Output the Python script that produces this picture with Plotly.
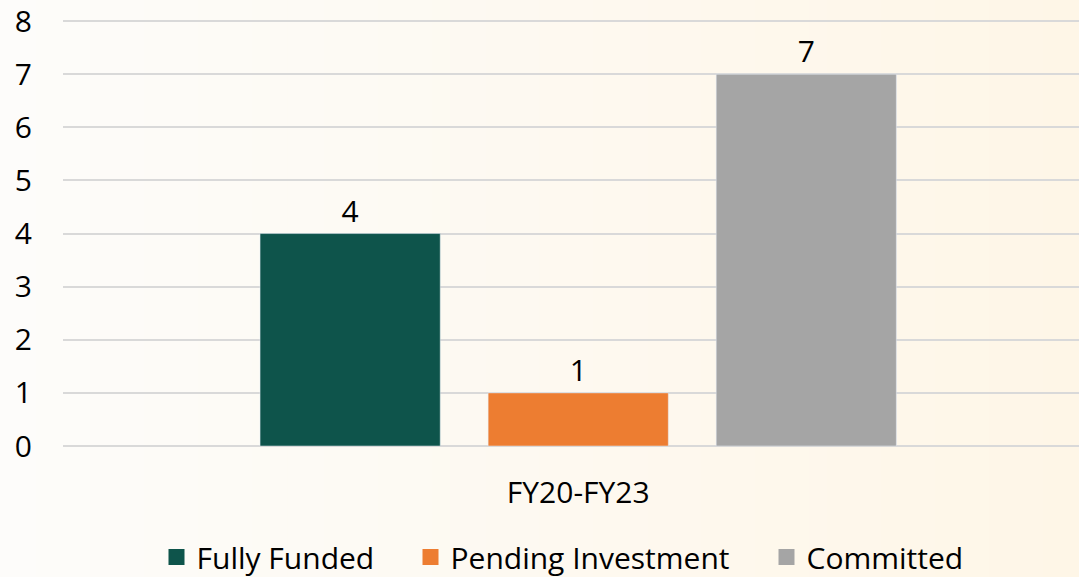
import plotly.graph_objects as go

categories = ["FY20-FY23"]
series_names = ["Fully Funded", "Pending Investment", "Committed"]
series_values = [[4], [1], [7]]
series_colors = ["#0E544B", "#ED7D31", "#A5A5A5"]
y_ticks = [0, 1, 2, 3, 4, 5, 6, 7, 8]

FONT = "Open Sans"
FS = 30
W, H = 1079, 577
ML, MR, MT, MB = 63, 0, 19, 131
pw = W - ML - MR
ph = H - MT - MB

fig = go.Figure()
for name, vals, col in zip(series_names, series_values, series_colors):
    fig.add_trace(go.Bar(
        x=categories, y=vals, name=name, marker_color=col,
        text=[str(v) for v in vals], textposition="outside",
        textfont=dict(size=FS, color="#000000", family=FONT),
        cliponaxis=False, showlegend=False,
    ))

legend_ids = ["legend", "legend2", "legend3"]
legend_px = [156.5, 410.5, 766.5]  # left edge of each legend box (pixels)
for name, col, lid in zip(series_names, series_colors, legend_ids):
    fig.add_trace(go.Scatter(
        x=[None], y=[None], mode="markers", name=name, legend=lid,
        marker=dict(symbol="square", size=19, color=col),
    ))

# background gradient (left near-white -> right cream)
c0 = (253, 252, 250)
c1 = (254, 246, 231)
n = 60
shapes = []
for i in range(n):
    t = i / (n - 1)
    c = tuple(round(a + (b - a) * t) for a, b in zip(c0, c1))
    x0 = (-ML + W * i / n) / pw
    x1 = (-ML + W * (i + 1) / n) / pw + 0.002
    shapes.append(dict(type="rect", xref="paper", yref="paper",
                       x0=x0, x1=x1, y0=-MB / ph - 0.01, y1=1 + MT / ph + 0.01,
                       fillcolor="rgb(%d,%d,%d)" % c, line=dict(width=0),
                       layer="below"))

leg_y = (446 - 557) / ph
legends = {}
for lid, px in zip(legend_ids, legend_px):
    legends[lid] = dict(orientation="h", x=(px - ML) / pw, xanchor="left",
                        y=leg_y, yanchor="middle", bgcolor="rgba(0,0,0,0)",
                        font=dict(size=FS, family=FONT, color="#000000"),
                        borderwidth=0)

fig.update_layout(
    width=W, height=H,
    margin=dict(l=ML, r=MR, t=MT, b=MB, pad=0, autoexpand=False),
    paper_bgcolor="#FDFBF6",
    plot_bgcolor="rgba(0,0,0,0)",
    shapes=shapes,
    barmode="group",
    bargap=0.336,
    bargroupgap=0.21,
    font=dict(family=FONT, size=FS, color="#000000"),
    xaxis=dict(range=[-0.5, 0.486], showgrid=False, zeroline=False,
               showline=False, ticks="", ticklabelstandoff=26,
               tickfont=dict(size=FS, family=FONT)),
    yaxis=dict(range=[0, 8.04], tickvals=y_ticks, showgrid=True,
               gridcolor="#D9D9D9", gridwidth=2, zeroline=True,
               zerolinecolor="#D9D9D9", zerolinewidth=2, showline=False,
               ticks="", ticklabelstandoff=30, ticklabeloverflow="allow",
               tickfont=dict(size=FS, family=FONT)),
    **legends,
)

fig.write_html(
    "out.html",
    config={"displayModeBar": False},
    post_script="document.body.style.margin='0';document.body.style.overflow='hidden';",
)
